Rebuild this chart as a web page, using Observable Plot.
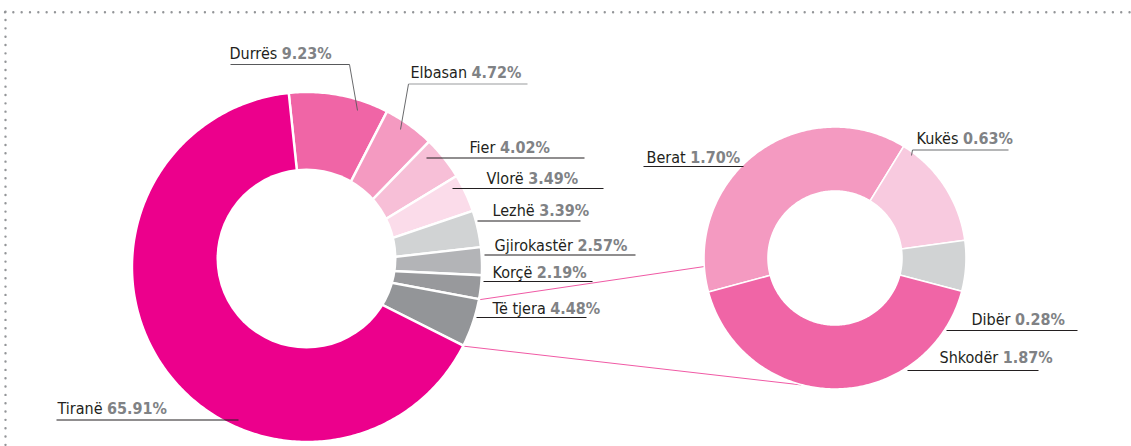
<!DOCTYPE html>
<html>
<head>
<meta charset="utf-8">
<script src="https://cdn.jsdelivr.net/npm/d3@7"></script>
<script src="https://cdn.jsdelivr.net/npm/@observablehq/plot@0.6"></script>
<style>
  html, body { margin: 0; padding: 0; background: #ffffff; }
  #chart svg { display: block; }
</style>
</head>
<body>
<div id="chart"></div>
<script>
// ---------- DATA ----------
// Main donut, in clockwise order starting near 12 o'clock
const mainNames  = ["Durrës", "Elbasan", "Fier", "Vlorë", "Lezhë", "Gjirokastër", "Korçë", "Të tjera", "Tiranë"];
const mainValues = [9.23, 4.72, 4.02, 3.49, 3.39, 2.57, 2.19, 4.48, 65.91];
const mainColors = ["#f065a6", "#f49ac1", "#f7bfd7", "#fbdcea", "#d1d3d4", "#b3b4b7", "#98999c", "#939598", "#ec008c"];

// Breakdown of "Të tjera", clockwise
const otherNames  = ["Berat", "Kukës", "Dibër", "Shkodër"];
const otherValues = [1.70, 0.63, 0.28, 1.87];
const otherColors = ["#f49ac1", "#f8cadf", "#d1d3d4", "#f065a6"];

// ---------- LAYOUT ----------
const W = 1131, H = 446;
const FONT = '"DejaVu Sans Condensed", "DejaVu Sans", sans-serif';
const mainPie  = {cx: 307, cy: 267, r: 175, r0: 0, start: -6, sep: 2.4};
const mainHole = {cx: 306, cy: 258, r: 90};
const otherPie = {cx: 835, cy: 258, r: 131, r0: 67, start: -105, sep: 1.6};
// where the two magenta connectors land on the right donut (degrees, clockwise from top)
const connectorTargets = [266.5, 195.2];

// label placement: text start / baseline, underline extent, optional leader end
const labelLayout = {
  "Tiranë":      {tx: 57,  ty: 413, lx1: 56,  lx2: 238,  ly: 419.5, lc: "#231f20"},
  "Durrës":      {tx: 229, ty: 58,  lx1: 230, lx2: 349,  ly: 64,    lc: "#58595b", leader: [349, 64, 357, 110]},
  "Elbasan":     {tx: 410, ty: 77,  lx1: 408, lx2: 527,  ly: 83.5,  lc: "#9a9b9d", leader: [408, 83.5, 400, 129]},
  "Fier":        {tx: 469, ty: 152, lx1: 426, lx2: 584,  ly: 157.5, lc: "#231f20"},
  "Vlorë":       {tx: 486, ty: 183, lx1: 452, lx2: 603,  ly: 188,   lc: "#231f20"},
  "Lezhë":       {tx: 492, ty: 215, lx1: 477, lx2: 580,  ly: 220.5, lc: "#231f20"},
  "Gjirokastër": {tx: 494, ty: 250, lx1: 484, lx2: 635,  ly: 254.5, lc: "#231f20"},
  "Korçë":       {tx: 492, ty: 277, lx1: 483, lx2: 592,  ly: 281,   lc: "#231f20"},
  "Të tjera":    {tx: 492, ty: 313, lx1: 476, lx2: 586,  ly: 317,   lc: "#231f20"},
  "Berat":       {tx: 646, ty: 162, lx1: 643, lx2: 743,  ly: 166,   lc: "#231f20"},
  "Kukës":       {tx: 916, ty: 143, lx1: 912, lx2: 1008, ly: 149.5, lc: "#6d6e71", leader: [912, 149.5, 911, 155]},
  "Dibër":       {tx: 971, ty: 324, lx1: 946, lx2: 1077, ly: 330,   lc: "#231f20"},
  "Shkodër":     {tx: 939, ty: 362, lx1: 907, lx2: 1038, ly: 370,   lc: "#231f20"}
};

// ---------- GEOMETRY FROM DATA ----------
const rad = a => a * Math.PI / 180;
const polar = (g, a, r) => [g.cx + r * Math.sin(rad(a)), g.cy - r * Math.cos(rad(a))];

function slices(names, values, colors, g) {
  const total = d3.sum(values);
  let cum = 0;
  return names.map((name, i) => {
    const a0 = g.start + cum / total * 360;
    cum += values[i];
    const a1 = g.start + cum / total * 360;
    return {name, value: values[i], color: colors[i], a0, a1};
  });
}

function arcPoints(sl, g) {
  const pts = [];
  for (const s of sl) {
    const n = Math.max(2, Math.ceil((s.a1 - s.a0) / 0.75));
    for (let k = 0; k <= n; k++) {
      const a = s.a0 + (s.a1 - s.a0) * k / n;
      const [x1, y1] = polar(g, a, g.r);
      const [x2, y2] = polar(g, a, g.r0);
      pts.push({name: s.name, color: s.color, x1, y1, x2, y2});
    }
  }
  return pts;
}

const mainSlices = slices(mainNames, mainValues, mainColors, mainPie);
const otherSlices = slices(otherNames, otherValues, otherColors, otherPie);
const mainArc = arcPoints(mainSlices, mainPie);
const otherArc = arcPoints(otherSlices, otherPie);

const tjera = mainSlices.find(s => s.name === "Të tjera");
const connectors = [tjera.a0, tjera.a1].map((a, i) => {
  const [x1, y1] = polar(mainPie, a, mainPie.r);
  const [x2, y2] = polar(otherPie, connectorTargets[i], otherPie.r);
  return {x1, y1, x2, y2};
});

// text measuring for the two-tone labels
const ctx = document.createElement("canvas").getContext("2d");
ctx.font = `16px ${FONT}`;
const measure = s => ctx.measureText(s).width;
const fmt = d3.format(".2f");

const labels = [...mainSlices, ...otherSlices].map(s => ({
  name: s.name,
  pct: fmt(s.value) + "%",
  ...labelLayout[s.name]
}));
const leaders = labels.filter(d => d.leader).map(d => ({
  x1: d.leader[0], y1: d.leader[1], x2: d.leader[2], y2: d.leader[3]
}));

// ---------- PLOT ----------
const chart = Plot.plot({
  width: W,
  height: H,
  margin: 0,
  x: {domain: [0, W], range: [0, W], axis: null},
  y: {domain: [0, H], range: [0, H], axis: null},
  color: {type: "identity"},
  style: {background: "#ffffff"},
  marks: [
    // dotted frame
    Plot.ruleY([11.7], {x1: 5, x2: W, stroke: "#939598", strokeWidth: 2.4, strokeDasharray: "0 8.33", strokeLinecap: "round"}),
    Plot.ruleX([5], {y1: 11.7, y2: H, stroke: "#939598", strokeWidth: 2.4, strokeDasharray: "0 8.33", strokeLinecap: "round"}),
    // connectors
    Plot.link(connectors, {x1: "x1", y1: "y1", x2: "x2", y2: "y2", stroke: "#f05aa5", strokeWidth: 1}),
    // main donut
    Plot.area(mainArc, {x1: "x1", y1: "y1", x2: "x2", y2: "y2", z: "name", fill: "color",
      stroke: "#ffffff", strokeWidth: mainPie.sep, strokeLinejoin: "round"}),
    Plot.dot([mainHole], {x: "cx", y: "cy", r: mainHole.r, fill: "#ffffff", stroke: null}),
    // breakdown donut
    Plot.area(otherArc, {x1: "x1", y1: "y1", x2: "x2", y2: "y2", z: "name", fill: "color",
      stroke: "#ffffff", strokeWidth: otherPie.sep, strokeLinejoin: "round"}),
    // leader lines and underlines
    Plot.link(leaders, {x1: "x1", y1: "y1", x2: "x2", y2: "y2", stroke: "#58595b", strokeWidth: 0.9}),
    Plot.link(labels, {x1: "lx1", x2: "lx2", y1: "ly", y2: "ly", stroke: "lc", strokeWidth: 1.1}),
    // labels
    Plot.text(labels, {x: "tx", y: "ty", text: "name", textAnchor: "start", lineAnchor: "bottom",
      fontSize: 16, fontFamily: FONT, fill: "#231f20"}),
    Plot.text(labels, {x: d => d.tx + measure(d.name + " "), y: "ty", text: "pct", textAnchor: "start",
      lineAnchor: "bottom", fontSize: 16, fontFamily: FONT, fontWeight: "bold", fill: "#808285"})
  ]
});
document.getElementById("chart").appendChild(chart);
</script>
</body>
</html>
